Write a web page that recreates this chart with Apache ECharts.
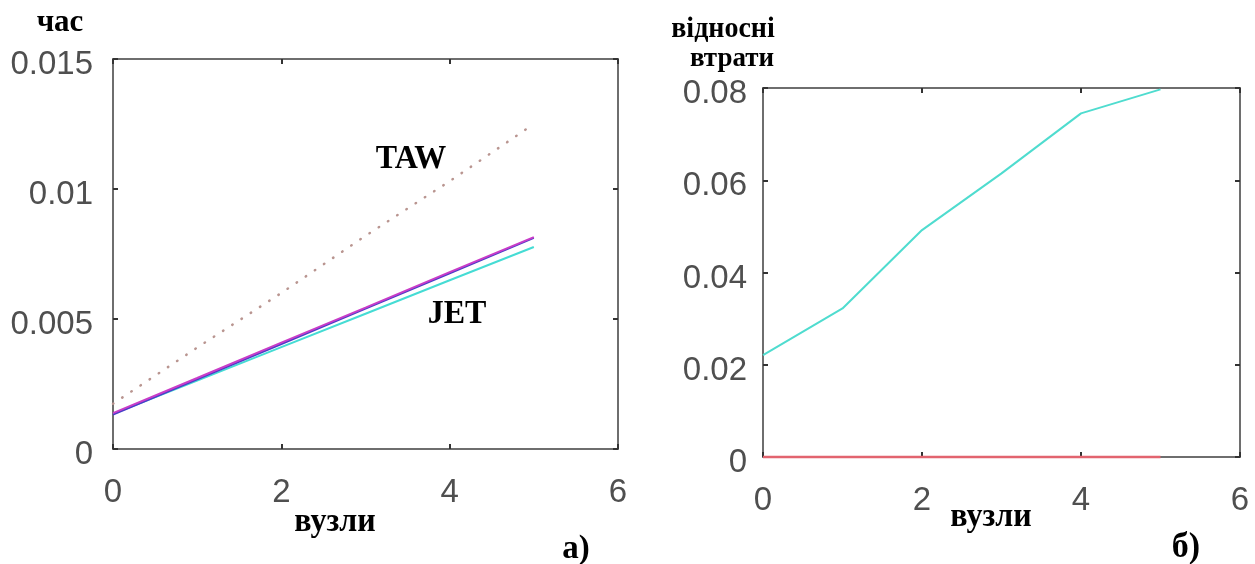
<!DOCTYPE html>
<html>
<head>
<meta charset="utf-8">
<script src="https://cdn.jsdelivr.net/npm/echarts@6/dist/echarts.min.js"></script>
<style>
  html, body { margin: 0; padding: 0; background: #fff; }
  #chart { width: 1255px; height: 564px; }
</style>
</head>
<body>
<div id="chart"></div>
<script>
  // вузли (x) — спільні для обох графіків
  var nodes = [0, 1, 2, 3, 4, 5];

  // а) час
  var timeTAW = [0.00174, 0.0039, 0.0060, 0.0082, 0.0103, 0.0125];
  var timeMag = [0.00138, 0.00273, 0.00409, 0.00544, 0.0068, 0.00815];
  var timeBlue = [0.00132, 0.00268, 0.00404, 0.0054, 0.00676, 0.00812];
  var timeJET = [0.00135, 0.00263, 0.00392, 0.0052, 0.00649, 0.00777];

  // б) відносні втрати
  var lossCyan = [0.0221, 0.0322, 0.0492, 0.0615, 0.0745, 0.0797];
  var lossRed = [0, 0, 0, 0, 0, 0];

  function pairs(ys) {
    return nodes.map(function (x, i) { return [x, ys[i]]; });
  }

  var labelFont = {
    fontFamily: '"Liberation Sans", Arial, sans-serif',
    fontSize: 33,
    color: '#4f4f4f'
  };
  var frame = { show: true, onZero: false, lineStyle: { color: '#6e6e6e', width: 2 } };
  function ticks() {
    return { show: true, inside: false, length: -5, lineStyle: { color: '#333', width: 2 } };
  }

  function xAx(grid, top) {
    return {
      type: 'value', gridIndex: grid, position: top ? 'top' : 'bottom',
      min: 0, max: 6, interval: 2,
      axisLine: frame, axisTick: ticks(), splitLine: { show: false },
      axisLabel: top ? { show: false } : Object.assign({ margin: 27 }, labelFont)
    };
  }
  function yAx(grid, right, max, step, gap) {
    return {
      type: 'value', gridIndex: grid, position: right ? 'right' : 'left',
      min: 0, max: max, interval: step,
      axisLine: frame, axisTick: ticks(), splitLine: { show: false },
      axisLabel: right ? { show: false } :
        Object.assign({ margin: gap, verticalAlign: 'top', lineHeight: 12 }, labelFont)
    };
  }

  var serif = '"Liberation Serif", "Times New Roman", serif';
  function txt(s, x, y, size) {
    return {
      type: 'text', x: x, y: y, scaleY: 1.05,
      style: {
        text: s, fill: '#000', font: 'bold ' + size + 'px ' + serif,
        align: 'center', verticalAlign: 'bottom'
      }
    };
  }

  var chart = echarts.init(document.getElementById('chart'));
  chart.setOption({
    animation: false,
    backgroundColor: '#fff',
    grid: [
      { left: 113, top: 59, width: 505, height: 390 },
      { left: 763, top: 88, width: 477, height: 369 }
    ],
    xAxis: [xAx(0, false), xAx(0, true), xAx(1, false), xAx(1, true)],
    yAxis: [
      yAx(0, false, 0.015, 0.005, 20), yAx(0, true, 0.015, 0.005),
      yAx(1, false, 0.08, 0.02, 16), yAx(1, true, 0.08, 0.02)
    ],
    series: [
      {
        type: 'line', xAxisIndex: 0, yAxisIndex: 0, data: pairs(timeTAW), symbol: 'none',
        lineStyle: { color: '#b99590', width: 2.5, type: [0.5, 10.5], cap: 'round' }
      },
      {
        type: 'line', xAxisIndex: 0, yAxisIndex: 0, data: pairs(timeJET), symbol: 'none',
        lineStyle: { color: '#45dcd4', width: 2 }
      },
      {
        type: 'line', xAxisIndex: 0, yAxisIndex: 0, data: pairs(timeBlue), symbol: 'none',
        lineStyle: { color: '#4a3cc8', width: 2 }
      },
      {
        type: 'line', xAxisIndex: 0, yAxisIndex: 0, data: pairs(timeMag), symbol: 'none',
        lineStyle: { color: '#c93cc8', width: 2 }
      },
      {
        type: 'line', xAxisIndex: 2, yAxisIndex: 2, data: pairs(lossCyan), symbol: 'none',
        lineStyle: { color: '#4fdccf', width: 2 }
      },
      {
        type: 'line', xAxisIndex: 2, yAxisIndex: 2, data: pairs(lossRed), symbol: 'none', clip: false, z: 5,
        lineStyle: { color: '#e2646f', width: 2.5 }
      }
    ],
    graphic: [
      txt('час', 60, 39, 31),
      txt('TAW', 411, 176, 32),
      txt('JET', 457, 331, 32),
      txt('вузли', 335, 539, 32),
      txt('а)', 576, 566, 33),
      txt('відносні', 723, 44, 28),
      txt('втрати', 732, 73, 27),
      txt('вузли', 991, 534, 32),
      txt('б)', 1186, 566, 34)
    ]
  });
</script>
</body>
</html>
